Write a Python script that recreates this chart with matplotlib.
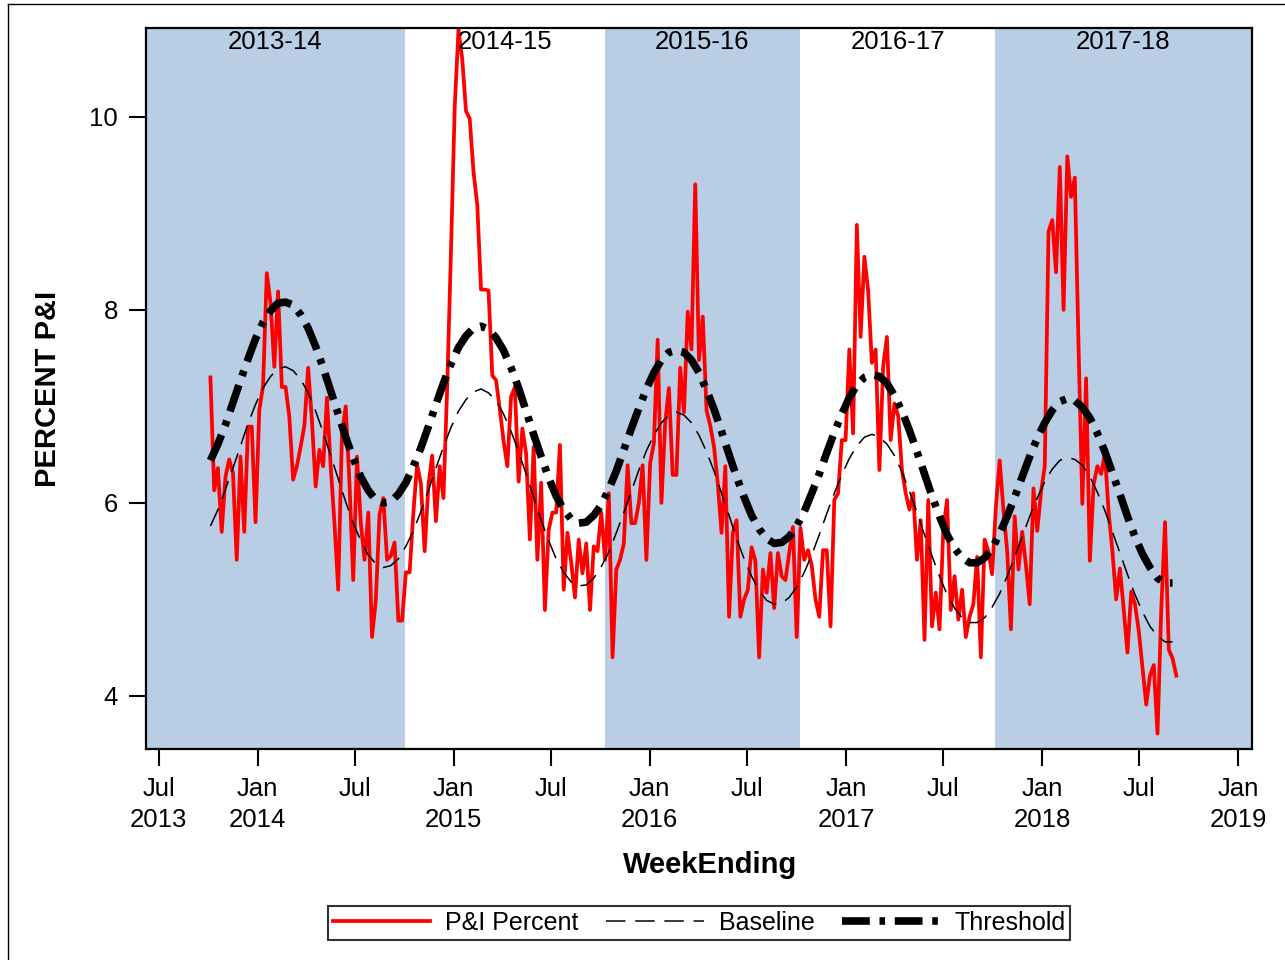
import numpy as np
import pandas as pd
import matplotlib
matplotlib.use('Agg')
import matplotlib.pyplot as plt
from matplotlib.lines import Line2D

plt.rcParams['font.family'] = ['Liberation Sans', 'DejaVu Sans']
plt.rcParams['lines.scale_dashes'] = False

# weekly P&I percent, first week ending 2013-10-05
pi_percent = [
    7.30, 6.13, 6.36, 5.70, 6.27, 6.45, 6.31, 5.41, 6.48, 5.70,
    6.79, 6.79, 5.80, 6.96, 7.21, 8.38, 8.07, 7.41, 8.19, 7.20,
    7.20, 6.89, 6.24, 6.38, 6.58, 6.80, 7.40, 6.86, 6.17, 6.55,
    6.38, 7.09, 6.38, 5.79, 5.10, 6.72, 7.00, 6.20, 5.20, 6.48,
    5.80, 5.41, 5.90, 4.61, 4.99, 5.88, 6.05, 5.41, 5.45, 5.59,
    4.78, 4.78, 5.28, 5.28, 5.90, 6.40, 6.20, 5.50, 6.18, 6.49,
    5.81, 6.38, 6.05, 7.20, 8.60, 10.10, 10.90, 10.60, 10.06, 9.98,
    9.43, 9.09, 8.21, 8.21, 8.20, 7.32, 7.27, 6.97, 6.64, 6.38,
    7.10, 7.20, 6.22, 6.77, 6.51, 5.62, 6.58, 5.41, 6.21, 4.89,
    5.72, 5.90, 5.90, 6.60, 5.10, 5.69, 5.38, 5.02, 5.62, 5.27,
    5.58, 4.89, 5.55, 5.50, 5.90, 5.41, 6.10, 4.40, 5.31, 5.41,
    5.58, 6.39, 5.79, 5.79, 6.00, 6.39, 5.41, 6.41, 6.62, 7.69,
    6.00, 6.83, 7.19, 6.29, 6.29, 7.40, 6.94, 7.98, 7.59, 9.30,
    7.48, 7.93, 6.96, 6.80, 6.58, 6.20, 5.69, 6.38, 4.82, 5.69,
    5.82, 4.82, 5.00, 5.10, 5.54, 5.40, 4.40, 5.31, 5.07, 5.48,
    4.91, 5.48, 5.24, 5.20, 5.48, 5.75, 4.61, 5.74, 5.41, 5.51,
    5.35, 5.00, 4.82, 5.51, 5.51, 4.72, 6.03, 6.10, 6.65, 6.65,
    7.59, 6.72, 8.88, 7.72, 8.55, 8.20, 7.45, 7.59, 6.34, 7.41,
    7.72, 6.65, 7.03, 6.90, 6.34, 6.10, 5.93, 6.10, 5.41, 5.82,
    4.58, 6.03, 4.72, 5.07, 4.69, 5.72, 6.03, 4.89, 5.24, 4.79,
    5.10, 4.61, 4.82, 4.95, 5.44, 4.40, 5.62, 5.50, 5.26, 5.96,
    6.44, 5.93, 5.50, 4.69, 5.86, 5.31, 5.70, 5.35, 4.95, 6.15,
    5.71, 6.11, 6.38, 8.81, 8.93, 8.39, 9.48, 8.00, 9.59, 9.17,
    9.37, 7.60, 5.99, 7.29, 5.40, 6.19, 6.38, 6.30, 6.51, 5.90,
    5.50, 5.00, 5.32, 4.90, 4.45, 5.08, 4.95, 4.68, 4.30, 3.91,
    4.21, 4.32, 3.61, 4.90, 5.80, 4.48, 4.39, 4.21,
]

# baseline and threshold, read every second week
baseline = [
    5.76, 5.93, 6.14, 6.36, 6.59, 6.82, 7.02, 7.19, 7.31, 7.39,
    7.41, 7.37, 7.28, 7.14, 6.95, 6.73, 6.49, 6.25, 6.01, 5.79,
    5.61, 5.46, 5.37, 5.33, 5.35, 5.42, 5.55, 5.71, 5.91, 6.13,
    6.36, 6.58, 6.78, 6.95, 7.07, 7.15, 7.18, 7.14, 7.06, 6.92,
    6.74, 6.53, 6.30, 6.06, 5.82, 5.61, 5.42, 5.28, 5.18, 5.14,
    5.15, 5.22, 5.34, 5.49, 5.69, 5.90, 6.12, 6.34, 6.54, 6.70,
    6.83, 6.91, 6.94, 6.91, 6.83, 6.70, 6.53, 6.33, 6.10, 5.87,
    5.63, 5.42, 5.24, 5.09, 4.99, 4.95, 4.96, 5.02, 5.13, 5.28,
    5.46, 5.67, 5.89, 6.10, 6.29, 6.46, 6.59, 6.68, 6.71, 6.68,
    6.61, 6.49, 6.32, 6.12, 5.90, 5.67, 5.45, 5.24, 5.05, 4.91,
    4.81, 4.76, 4.76, 4.81, 4.92, 5.06, 5.24, 5.44, 5.65, 5.86,
    6.05, 6.22, 6.35, 6.44, 6.47, 6.45, 6.39, 6.27, 6.11, 5.92,
    5.70, 5.48, 5.26, 5.05, 4.87, 4.72, 4.62, 4.56, 4.56,
]

threshold = [
    6.44, 6.61, 6.81, 7.04, 7.27, 7.49, 7.70, 7.87, 7.99, 8.07,
    8.08, 8.05, 7.95, 7.81, 7.62, 7.40, 7.16, 6.92, 6.68, 6.46,
    6.27, 6.13, 6.03, 6.00, 6.01, 6.09, 6.21, 6.38, 6.57, 6.79,
    7.02, 7.24, 7.44, 7.61, 7.73, 7.81, 7.83, 7.80, 7.71, 7.58,
    7.40, 7.19, 6.95, 6.71, 6.48, 6.26, 6.07, 5.93, 5.83, 5.79,
    5.80, 5.87, 5.98, 6.14, 6.33, 6.55, 6.77, 6.98, 7.18, 7.35,
    7.48, 7.56, 7.58, 7.56, 7.48, 7.35, 7.17, 6.97, 6.74, 6.50,
    6.27, 6.06, 5.87, 5.73, 5.63, 5.58, 5.59, 5.65, 5.76, 5.91,
    6.10, 6.30, 6.52, 6.73, 6.92, 7.09, 7.22, 7.30, 7.33, 7.31,
    7.24, 7.11, 6.95, 6.75, 6.53, 6.30, 6.07, 5.86, 5.67, 5.53,
    5.43, 5.38, 5.38, 5.43, 5.53, 5.68, 5.86, 6.06, 6.27, 6.48,
    6.67, 6.83, 6.96, 7.05, 7.08, 7.06, 6.99, 6.88, 6.72, 6.53,
    6.31, 6.09, 5.86, 5.65, 5.47, 5.33, 5.22, 5.17, 5.17,
]

first_week = '2013-10-05'
weeks = pd.date_range(first_week, periods=len(pi_percent), freq='7D').values
biweeks = pd.date_range(first_week, periods=len(baseline), freq='14D').values

season_names = ['2013-14', '2014-15', '2015-16', '2016-17', '2017-18']
season_edges = ['2013-06-07', '2014-10-02', '2015-10-09', '2016-10-08',
                '2017-10-05', '2019-01-27']
season_shaded = [True, False, True, False, True]

tick_dates = pd.date_range('2013-07-01', '2019-01-01', freq='6MS').values
tick_labels = ['Jul\n2013', 'Jan\n2014', 'Jul', 'Jan\n2015', 'Jul', 'Jan\n2016',
               'Jul', 'Jan\n2017', 'Jul', 'Jan\n2018', 'Jul', 'Jan\n2019']

fig = plt.figure(figsize=(12.85, 9.6), dpi=100)
ax = fig.add_axes([146 / 1285, 1 - 749 / 960, 1106 / 1285, 721 / 960])

edges = [np.datetime64(d) for d in season_edges]
for i, name in enumerate(season_names):
    if season_shaded[i]:
        ax.axvspan(edges[i], edges[i + 1], color='#b9cde5', lw=0, zorder=0)
    mid = edges[i] + (edges[i + 1] - edges[i]) / 2
    ax.text(mid, 0.997, name, transform=ax.get_xaxis_transform(),
            ha='center', va='top', fontsize=18.5, zorder=5)

ax.plot(weeks, pi_percent, color='red', lw=2.7, label='P&I Percent', zorder=2)
ax.plot(biweeks, baseline, color='black', lw=1.1, dashes=(14, 7),
        label='Baseline', zorder=3)
ax.plot(biweeks, threshold, color='black', lw=5.5, dashes=(20, 7, 4, 7),
        dash_capstyle='butt', label='Threshold', zorder=4)

ax.set_xlim(edges[0], edges[-1])
ax.set_ylim(3.45, 10.92)
ax.set_yticks([4, 6, 8, 10])
ax.set_xticks(tick_dates)
ax.set_xticklabels(tick_labels, linespacing=1.4)

ax.tick_params(axis='both', length=12, width=1.5, labelsize=18.5,
               direction='out', pad=8)
for sp in ax.spines.values():
    sp.set_linewidth(1.6)

ax.set_xlabel('WeekEnding', fontsize=21, fontweight='bold')
ax.xaxis.set_label_coords(0.51, -0.142)
ax.xaxis.label.set_va('top')
ax.set_ylabel('PERCENT P&I', fontsize=21, fontweight='bold')
ax.yaxis.set_label_coords(-0.076, 0.5)

leg = fig.legend(loc='center', bbox_to_anchor=(0.544, 0.0385), ncol=3,
                 fontsize=18, frameon=True, fancybox=False, edgecolor='black',
                 handlelength=3.9, handletextpad=0.6, columnspacing=1.1,
                 borderpad=0.2, borderaxespad=0)
leg.get_frame().set_linewidth(1.5)

# outer frame of the picture
fig.add_artist(Line2D([8 / 1285, 8 / 1285], [0, 1 - 4 / 960],
                      transform=fig.transFigure, color='black', lw=1))
fig.add_artist(Line2D([8 / 1285, 1], [1 - 4 / 960, 1 - 4 / 960],
                      transform=fig.transFigure, color='black', lw=1))

fig.savefig('out.png', dpi=100)
